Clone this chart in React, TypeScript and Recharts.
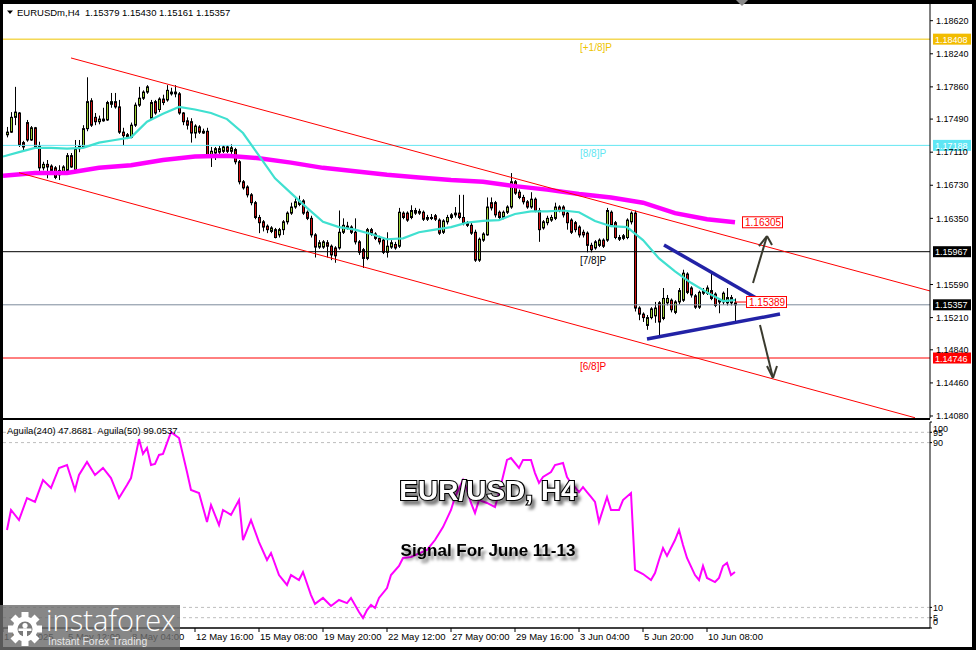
import React from 'react';
import { ComposedChart, Bar, Line, XAxis, YAxis, ReferenceLine, ReferenceDot } from 'recharts';

const FONT = '"Liberation Sans", Arial, Helvetica, sans-serif';

// H4 candles [open, high, low, close]; bar index = position + 1
const candles: [number, number, number, number][] = [
  [1.1731,1.1740,1.1728,1.1734],[1.1734,1.1757,1.1733,1.1751],[1.1751,1.1786,1.1742,1.1757],[1.1756,1.1757,1.1717,1.1719],
  [1.1722,1.1724,1.1713,1.1717],[1.1745,1.1748,1.1723,1.1725],[1.1725,1.1741,1.1724,1.1739],[1.1739,1.1740,1.1716,1.1717],
  [1.1718,1.1723,1.1688,1.1693],[1.1693,1.1700,1.1690,1.1697],[1.1697,1.1702,1.1681,1.1694],[1.1695,1.1697,1.1688,1.1690],
  [1.1693,1.1695,1.1680,1.1682],[1.1685,1.1696,1.1679,1.1690],[1.1687,1.1696,1.1685,1.1694],[1.1690,1.1710,1.1689,1.1707],
  [1.1707,1.1710,1.1693,1.1694],[1.1690,1.1725,1.1688,1.1715],[1.1715,1.1725,1.1711,1.1718],[1.1717,1.1742,1.1716,1.1738],
  [1.1738,1.1797,1.1735,1.1769],[1.1770,1.1773,1.1740,1.1742],[1.1751,1.1756,1.1742,1.1746],[1.1746,1.1753,1.1743,1.1749],
  [1.1749,1.1762,1.1746,1.1747],[1.1748,1.1770,1.1747,1.1768],[1.1766,1.1779,1.1762,1.1769],[1.1769,1.1779,1.1761,1.1763],
  [1.1763,1.1771,1.1732,1.1734],[1.1734,1.1739,1.1719,1.1730],[1.1728,1.1733,1.1726,1.1731],[1.1728,1.1745,1.1727,1.1742],
  [1.1742,1.1768,1.1740,1.1765],[1.1765,1.1786,1.1763,1.1773],[1.1773,1.1782,1.1771,1.1780],[1.1780,1.1788,1.1778,1.1786],
  [1.1750,1.1771,1.1748,1.1768],[1.1769,1.1771,1.1754,1.1756],[1.1760,1.1774,1.1757,1.1772],[1.1772,1.1777,1.1765,1.1768],
  [1.1771,1.1788,1.1769,1.1782],[1.1778,1.1785,1.1776,1.1780],[1.1780,1.1788,1.1774,1.1778],[1.1778,1.1780,1.1754,1.1756],
  [1.1756,1.1757,1.1742,1.1746],[1.1747,1.1751,1.1737,1.1742],[1.1746,1.1750,1.1722,1.1733],[1.1733,1.1743,1.1727,1.1741],
  [1.1740,1.1742,1.1732,1.1734],[1.1733,1.1738,1.1732,1.1735],[1.1735,1.1739,1.1706,1.1708],[1.1708,1.1717,1.1694,1.1712],
  [1.1710,1.1717,1.1702,1.1715],[1.1711,1.1718,1.1708,1.1715],[1.1712,1.1719,1.1710,1.1717],[1.1717,1.1719,1.1710,1.1712],
  [1.1712,1.1720,1.1709,1.1716],[1.1714,1.1716,1.1697,1.1700],[1.1700,1.1702,1.1674,1.1677],[1.1677,1.1679,1.1668,1.1670],
  [1.1671,1.1673,1.1659,1.1662],[1.1662,1.1664,1.1650,1.1653],[1.1653,1.1655,1.1634,1.1636],[1.1636,1.1639,1.1618,1.1630],
  [1.1631,1.1633,1.1620,1.1625],[1.1626,1.1628,1.1618,1.1622],[1.1620,1.1626,1.1618,1.1624],[1.1622,1.1624,1.1612,1.1613],
  [1.1616,1.1624,1.1613,1.1622],[1.1622,1.1633,1.1616,1.1631],[1.1631,1.1643,1.1628,1.1641],[1.1641,1.1653,1.1639,1.1648],
  [1.1648,1.1659,1.1646,1.1654],[1.1651,1.1661,1.1649,1.1655],[1.1655,1.1657,1.1639,1.1641],[1.1642,1.1644,1.1633,1.1635],
  [1.1635,1.1638,1.1613,1.1616],[1.1616,1.1618,1.1590,1.1602],[1.1602,1.1610,1.1600,1.1607],[1.1602,1.1610,1.1600,1.1608],
  [1.1607,1.1610,1.1590,1.1603],[1.1603,1.1605,1.1587,1.1593],[1.1601,1.1603,1.1584,1.1592],[1.1601,1.1644,1.1599,1.1619],
  [1.1619,1.1635,1.1617,1.1627],[1.1624,1.1631,1.1622,1.1626],[1.1625,1.1627,1.1617,1.1619],[1.1619,1.1635,1.1605,1.1608],
  [1.1608,1.1610,1.1593,1.1596],[1.1599,1.1601,1.1578,1.1589],[1.1589,1.1624,1.1587,1.1622],[1.1622,1.1624,1.1615,1.1618],
  [1.1617,1.1619,1.1610,1.1612],[1.1612,1.1615,1.1605,1.1608],[1.1610,1.1612,1.1594,1.1596],[1.1596,1.1619,1.1590,1.1603],
  [1.1602,1.1610,1.1600,1.1607],[1.1605,1.1608,1.1599,1.1601],[1.1603,1.1647,1.1601,1.1642],[1.1641,1.1643,1.1634,1.1636],
  [1.1641,1.1643,1.1631,1.1633],[1.1636,1.1650,1.1634,1.1644],[1.1641,1.1647,1.1639,1.1644],[1.1643,1.1646,1.1639,1.1641],
  [1.1642,1.1644,1.1632,1.1634],[1.1634,1.1639,1.1632,1.1636],[1.1635,1.1640,1.1633,1.1636],[1.1638,1.1640,1.1632,1.1634],
  [1.1633,1.1635,1.1616,1.1618],[1.1619,1.1634,1.1617,1.1632],[1.1631,1.1639,1.1628,1.1636],[1.1636,1.1641,1.1634,1.1639],
  [1.1639,1.1648,1.1636,1.1641],[1.1641,1.1662,1.1634,1.1636],[1.1636,1.1662,1.1627,1.1630],[1.1630,1.1632,1.1625,1.1627],
  [1.1627,1.1630,1.1616,1.1618],[1.1619,1.1622,1.1585,1.1587],[1.1587,1.1613,1.1585,1.1611],[1.1610,1.1619,1.1608,1.1617],
  [1.1616,1.1659,1.1615,1.1648],[1.1653,1.1659,1.1644,1.1647],[1.1653,1.1655,1.1636,1.1639],[1.1642,1.1644,1.1634,1.1636],
  [1.1636,1.1644,1.1634,1.1642],[1.1642,1.1650,1.1640,1.1648],[1.1648,1.1687,1.1646,1.1677],[1.1677,1.1679,1.1662,1.1664],
  [1.1665,1.1668,1.1657,1.1659],[1.1659,1.1662,1.1651,1.1654],[1.1654,1.1656,1.1646,1.1648],[1.1648,1.1665,1.1646,1.1657],
  [1.1657,1.1659,1.1642,1.1644],[1.1644,1.1647,1.1608,1.1622],[1.1624,1.1633,1.1622,1.1631],[1.1630,1.1638,1.1627,1.1635],
  [1.1633,1.1639,1.1631,1.1636],[1.1635,1.1653,1.1633,1.1648],[1.1648,1.1650,1.1642,1.1644],[1.1648,1.1650,1.1636,1.1639],
  [1.1641,1.1643,1.1622,1.1630],[1.1633,1.1635,1.1617,1.1619],[1.1630,1.1632,1.1619,1.1622],[1.1625,1.1627,1.1613,1.1616],
  [1.1619,1.1622,1.1613,1.1616],[1.1618,1.1620,1.1596,1.1604],[1.1604,1.1607,1.1596,1.1599],[1.1601,1.1610,1.1599,1.1608],
  [1.1604,1.1612,1.1602,1.1610],[1.1610,1.1612,1.1601,1.1603],[1.1610,1.1647,1.1608,1.1644],[1.1642,1.1644,1.1625,1.1627],
  [1.1630,1.1632,1.1611,1.1613],[1.1613,1.1616,1.1609,1.1611],[1.1612,1.1617,1.1610,1.1615],[1.1613,1.1635,1.1611,1.1633],
  [1.1631,1.1643,1.1628,1.1641],[1.1641,1.1644,1.1528,1.1532],[1.1532,1.1534,1.1518,1.1525],[1.1525,1.1527,1.1516,1.1521],
  [1.1512,1.1524,1.1507,1.1521],[1.1521,1.1533,1.1519,1.1531],[1.1523,1.1539,1.1515,1.1532],[1.1538,1.1540,1.1501,1.1516],
  [1.1520,1.1555,1.1518,1.1543],[1.1538,1.1547,1.1535,1.1543],[1.1541,1.1543,1.1527,1.1530],[1.1527,1.1541,1.1525,1.1539],
  [1.1539,1.1555,1.1536,1.1552],[1.1541,1.1576,1.1539,1.1572],[1.1571,1.1573,1.1548,1.1550],[1.1555,1.1557,1.1544,1.1547],
  [1.1546,1.1548,1.1531,1.1533],[1.1533,1.1552,1.1531,1.1550],[1.1549,1.1555,1.1547,1.1552],[1.1549,1.1558,1.1547,1.1555],
  [1.1552,1.1572,1.1541,1.1543],[1.1548,1.1550,1.1533,1.1535],[1.1541,1.1543,1.1526,1.1539],[1.1539,1.1551,1.1536,1.1549],
  [1.1538,1.1555,1.1535,1.1544],[1.1544,1.1547,1.1535,1.1538],[1.15379,1.15430,1.15161,1.15357],
];

// Moving averages: [bar index, price]
const fastMa: [number, number][] = [
  [0,1.1706],[4,1.1711],[8,1.1716],[12,1.1716],[16,1.1715],[20,1.1716],[24,1.1722],[28,1.1725],[32,1.1728],[36,1.1746],
  [40,1.1755],[44,1.1763],[48,1.1760],[52,1.1756],[56,1.1749],[60,1.1733],[64,1.1707],[68,1.1681],[72,1.1664],[76,1.1647],
  [80,1.1631],[84,1.1625],[88,1.1622],[92,1.1617],[96,1.1611],[100,1.1612],[104,1.1619],[108,1.1622],[112,1.1625],[116,1.1630],
  [120,1.1632],[124,1.1633],[128,1.1640],[132,1.1643],[136,1.1643],[140,1.1644],[144,1.1642],[148,1.1632],[152,1.1626],[156,1.1625],
  [160,1.1610],[164,1.1589],[168,1.1574],[172,1.1561],[176,1.1550],[180,1.1540],[183,1.1541],
];
const slowMa: [number, number][] = [
  [0,1.1684],[8,1.1687],[16,1.1687],[24,1.1693],[32,1.1696],[40,1.1702],[48,1.1706],[56,1.1707],[64,1.1704],[72,1.1699],
  [80,1.1693],[88,1.1689],[96,1.1685],[104,1.1682],[112,1.1679],[120,1.1677],[128,1.1672],[136,1.1668],[144,1.1663],[152,1.1659],
  [160,1.1653],[168,1.1641],[176,1.1634],[183,1.16305],
];

// Aguila oscillator: [bar index, value]
const aguila: [number, number][] = [
  [1,47.6],[2,57.3],[4,52.4],[6,63.1],[8,61.2],[10,71.8],[12,68.0],[14,77.7],[16,79.1],[18,67.0],[19,74.3],[21,80.6],[23,74.3],
  [25,77.7],[27,72.8],[29,63.1],[31,69.4],[32,72.8],[34,91.7],[35,84.5],[36,87.4],[37,79.1],[38,79.6],[39,84.0],[40,84.5],
  [42,95.1],[44,92.2],[46,75.7],[47,67.0],[49,65.5],[51,51.5],[52,59.7],[54,50.0],[55,57.3],[57,54.9],[59,62.1],[60,42.7],
  [62,52.4],[64,41.7],[66,33.0],[67,36.4],[69,25.7],[71,20.9],[72,25.7],[74,23.3],[75,27.2],[77,16.0],[78,11.7],[80,14.6],
  [82,10.7],[84,13.6],[86,12.1],[87,14.6],[89,7.8],[90,4.9],[91,8.7],[92,11.2],[93,9.7],[94,14.6],[96,19.4],[97,25.7],
  [99,30.1],[100,34.0],[102,34.5],[106,37.9],[108,42.7],[110,49.0],[112,57.3],[113,63.6],[115,71.8],[116,67.0],[117,60.7],
  [118,55.8],[119,62.1],[121,60.7],[123,58.7],[124,65.5],[126,81.6],[127,82.5],[129,77.7],[130,81.6],[132,81.6],[133,75.2],
  [134,70.4],[135,73.3],[137,75.7],[138,79.1],[140,80.1],[141,73.3],[142,70.4],[143,68.4],[144,66.0],[145,68.4],[146,66.0],
  [147,63.6],[148,61.2],[149,51.5],[151,63.6],[152,57.3],[154,57.3],[155,62.1],[157,65.5],[158,28.2],[160,26.2],[162,23.3],
  [163,26.7],[164,33.0],[165,38.8],[166,35.0],[168,42.7],[169,47.6],[170,40.3],[171,34.0],[173,25.7],[174,23.3],[175,30.1],
  [176,24.3],[178,22.3],[179,24.3],[180,30.1],[181,31.6],[182,25.7],[183,27.2],
];

const priceTicks = [1.1862, 1.1824, 1.1786, 1.1749, 1.1711, 1.1673, 1.1635, 1.1559, 1.1521, 1.1484, 1.1446, 1.1408];
const timeTicks = [0, 16, 32, 48, 64, 80, 96, 112, 128, 144, 160, 176];
const timeLabels = ['1 May 2025', '5 May 12:00', '8 May 04:00', '12 May 16:00', '15 May 08:00', '19 May 20:00',
  '22 May 12:00', '27 May 00:00', '29 May 16:00', '3 Jun 04:00', '5 Jun 20:00', '10 Jun 08:00'];
const oscTicks = [0, 5, 10, 90, 95, 100];
const oscLevels = [95, 90, 10, 5];

const murreyPrices = [1.18408, 1.17188, 1.15967, 1.14746];
const murreyNames = ['[+1/8]P', '[8/8]P', '[7/8]P', '[6/8]P'];
const murreyLabelBar = 144.25;
const lastPrice = 1.15357;
const maEndPrice = 1.16305;
const triangleMid = 1.15389;
const headerValues = ['1.15379', '1.15430', '1.15161', '1.15357'];
const oscHeader = 'Aguila(240) 47.8681  Aguila(50) 99.0537';

// drawn objects in [bar, price]
const channelUpper: [number, number][] = [[17, 1.18192], [231.75, 1.15516]];
const channelLower: [number, number][] = [[4, 1.16874], [228, 1.14060]];
const triUpper: [number, number][] = [[165.25, 1.16044], [192.25, 1.15332]];
const triLower: [number, number][] = [[161, 1.14964], [194.25, 1.15251]];
const arrowUp: [number, number][] = [[187.5, 1.15608], [191, 1.16147]];
const arrowUpWings: [number, number][] = [[189, 1.16032], [192.25, 1.16044]];
const arrowDown: [number, number][] = [[189.25, 1.15125], [192.5, 1.14516]];
const arrowDownWings: [number, number][] = [[191, 1.14654], [193.5, 1.14654]];

const X_DOMAIN: [number, number] = [0, 231.75];
const Y_DOMAIN: [number, number] = [1.14057, 1.188118];
const OSC_TOP = 2;
const OSC_HEIGHT = 206;

const GREEN = '#9acd32';
const RED = '#d01010';
const murreyColors = ['#eec400', '#62e6f2', '#000000', '#ff0000'];
const murreyBoxColors = ['#f2bc00', '#5ee6f4', '#000000', '#ff0000'];

const fastMap = new Map(fastMa);
const slowMap = new Map(slowMa);
const rows = Array.from({ length: candles.length + 1 }, (_, i) => ({
  i,
  candle: i >= 1 ? candles[i - 1] : null,
  fast: fastMap.has(i) ? fastMap.get(i) : null,
  slow: slowMap.has(i) ? slowMap.get(i) : null,
}));
const oscRows = aguila.map(([i, v]) => ({ i, v }));

const CandleShape = (props: any) => {
  const { x, y, width, height, payload } = props;
  const c = payload && payload.candle;
  if (!c || !isFinite(y) || !isFinite(height)) return null;
  const [o, h, l, cl] = c;
  const top = Math.min(y, y + height);
  const bot = Math.max(y, y + height);
  const k = (bot - top) / (h - l);
  const cx = Math.round(x + width / 2);
  const yo = top + (h - o) * k;
  const yc = top + (h - cl) * k;
  const bTop = Math.min(yo, yc);
  const bH = Math.max(Math.abs(yc - yo), 1);
  const bull = cl >= o;
  return (
    <g>
      <line x1={cx + 0.5} x2={cx + 0.5} y1={top} y2={bot} stroke="#000" strokeWidth={1} />
      <rect x={cx - 0.5} y={bTop} width={2} height={bH} fill={bull ? GREEN : RED} stroke="#000" strokeWidth={1} />
    </g>
  );
};

const axisBox = (bg: string, text: string) => (p: any) => (
  <g>
    <rect x={p.cx + 3} y={p.cy - 5.5} width={38} height={11} fill={bg} />
    <text x={p.cx + 5} y={p.cy + 3.5} fill="#fff" fontSize={9} fontFamily={FONT}>{text}</text>
  </g>
);

const plotBox = (text: string) => (p: any) => (
  <g>
    <rect x={p.cx + 0.5} y={p.cy - 5.5} width={40} height={11} fill="#fff" stroke="#ff0000" strokeWidth={1} />
    <text x={p.cx + 3} y={p.cy + 4} fill="#ff0000" fontSize={10} fontFamily={FONT}>{text}</text>
  </g>
);

const levelText = (text: string, color: string) => (p: any) => (
  <text x={p.cx} y={p.cy + 12} fill={color} fontSize={10} fontFamily={FONT}>{text}</text>
);

const TimeTick = (p: any) => {
  const idx = timeTicks.indexOf(p.payload.value);
  return (
    <text x={p.x + 1} y={p.y + 6} fontSize={9.5} fontFamily={FONT} fill="#000" textAnchor="start">
      {idx >= 0 ? timeLabels[idx] : ''}
    </text>
  );
};

// labels at the panel edges are kept inside the panel, as the terminal does
const OscTick = (p: any) => {
  const yy = Math.min(Math.max(p.y, OSC_TOP + 6), OSC_TOP + OSC_HEIGHT - 7);
  return (
    <text x={p.x} y={yy + 3.5} fontSize={9} fontFamily={FONT} fill="#000" textAnchor="start">{p.payload.value}</text>
  );
};

const seg = (pts: [number, number][]) => [{ x: pts[0][0], y: pts[0][1] }, { x: pts[1][0], y: pts[1][1] }];

export default function App() {
  return (
    <div style={{ position: 'absolute', left: 0, top: 0, width: 976, height: 650, background: '#000', overflow: 'hidden', fontFamily: FONT }}>
      <div style={{ position: 'absolute', left: 3, top: 4, width: 969, height: 643, background: '#fff' }} />

      <div style={{ position: 'absolute', left: 0, top: 0 }}>
        <ComposedChart width={976} height={422} data={rows} margin={{ top: 4, right: 0, bottom: 4, left: 3 }}>
          <XAxis type="number" dataKey="i" domain={X_DOMAIN} hide allowDataOverflow />
          <YAxis orientation="right" domain={Y_DOMAIN} ticks={priceTicks} interval={0} width={46} allowDataOverflow
            tickFormatter={(v: number) => v.toFixed(5)} tickSize={3} tickMargin={3}
            axisLine={{ stroke: '#000' }} tickLine={{ stroke: '#000' }}
            tick={{ fontSize: 9, fill: '#000', fontFamily: FONT }} />

          {murreyPrices.map((p, k) => (
            <ReferenceLine key={'m' + k} y={p} stroke={murreyColors[k]} strokeWidth={1} ifOverflow="visible" />
          ))}
          <ReferenceLine y={lastPrice} stroke="#7d8b9c" strokeWidth={1} />

          <Line dataKey="slow" stroke="#ff00ff" strokeWidth={4.5} dot={false} connectNulls isAnimationActive={false} />
          <Line dataKey="fast" stroke="#40e0d0" strokeWidth={2.2} dot={false} connectNulls isAnimationActive={false} />

          <Bar dataKey={(d: any) => (d.candle ? [d.candle[2], d.candle[1]] : null)} barSize={3} shape={CandleShape} isAnimationActive={false} />

          <ReferenceLine segment={seg(channelUpper)} stroke="#ff0000" strokeWidth={1} ifOverflow="visible" />
          <ReferenceLine segment={seg(channelLower)} stroke="#ff0000" strokeWidth={1} ifOverflow="visible" />
          <ReferenceLine segment={seg(triUpper)} stroke="#2222a6" strokeWidth={3.5} ifOverflow="visible" />
          <ReferenceLine segment={seg(triLower)} stroke="#2222a6" strokeWidth={3.5} ifOverflow="visible" />
          <ReferenceLine segment={seg(arrowUp)} stroke="#3a3a2e" strokeWidth={2} ifOverflow="visible" />
          <ReferenceLine segment={[{ x: arrowUp[1][0], y: arrowUp[1][1] }, { x: arrowUpWings[0][0], y: arrowUpWings[0][1] }]} stroke="#3a3a2e" strokeWidth={2} ifOverflow="visible" />
          <ReferenceLine segment={[{ x: arrowUp[1][0], y: arrowUp[1][1] }, { x: arrowUpWings[1][0], y: arrowUpWings[1][1] }]} stroke="#3a3a2e" strokeWidth={2} ifOverflow="visible" />
          <ReferenceLine segment={seg(arrowDown)} stroke="#3a3a2e" strokeWidth={2} ifOverflow="visible" />
          <ReferenceLine segment={[{ x: arrowDown[1][0], y: arrowDown[1][1] }, { x: arrowDownWings[0][0], y: arrowDownWings[0][1] }]} stroke="#3a3a2e" strokeWidth={2} ifOverflow="visible" />
          <ReferenceLine segment={[{ x: arrowDown[1][0], y: arrowDown[1][1] }, { x: arrowDownWings[1][0], y: arrowDownWings[1][1] }]} stroke="#3a3a2e" strokeWidth={2} ifOverflow="visible" />
          <ReferenceLine segment={[{ x: candles.length, y: triangleMid }, { x: 185.75, y: triangleMid }]} stroke="#ff0000" strokeWidth={1} ifOverflow="visible" />

          {murreyPrices.map((p, k) => (
            <ReferenceDot key={'t' + k} x={murreyLabelBar} y={p} r={0} ifOverflow="visible" shape={levelText(murreyNames[k], murreyColors[k])} />
          ))}
          <ReferenceDot x={184.75} y={maEndPrice} r={0} ifOverflow="visible" shape={plotBox(maEndPrice.toFixed(5))} />
          <ReferenceDot x={185.75} y={triangleMid} r={0} ifOverflow="visible" shape={plotBox(triangleMid.toFixed(5))} />

          {murreyPrices.map((p, k) => (
            <ReferenceDot key={'b' + k} x={X_DOMAIN[1]} y={p} r={0} ifOverflow="visible" shape={axisBox(murreyBoxColors[k], p.toFixed(5))} />
          ))}
          <ReferenceDot x={X_DOMAIN[1]} y={lastPrice} r={0} ifOverflow="visible" shape={axisBox('#000', lastPrice.toFixed(5))} />
        </ComposedChart>
      </div>

      <div style={{ position: 'absolute', left: 3, top: 418, width: 927, height: 2, background: '#000' }} />

      <div style={{ position: 'absolute', left: 0, top: 420 }}>
        <ComposedChart width={976} height={230} data={oscRows} margin={{ top: OSC_TOP, right: 0, bottom: 4, left: 3 }}>
          <XAxis type="number" dataKey="i" domain={X_DOMAIN} ticks={timeTicks} interval={0} allowDataOverflow
            height={18} tickSize={4} tickMargin={2} axisLine={{ stroke: '#000', strokeWidth: 1.5 }} tickLine={{ stroke: '#000' }}
            tick={TimeTick} />
          <YAxis orientation="right" domain={[0, 100]} ticks={oscTicks} interval={0} width={46} allowDataOverflow
            tickSize={2} tickMargin={1} axisLine={{ stroke: '#000' }} tickLine={{ stroke: '#000' }} tick={OscTick} />
          {oscLevels.map((v) => (
            <ReferenceLine key={'o' + v} y={v} stroke="#bdbdbd" strokeDasharray="3 3" strokeWidth={1} />
          ))}
          <Line dataKey="v" stroke="#ff00ff" strokeWidth={2} dot={false} isAnimationActive={false} />
        </ComposedChart>
      </div>

      <svg width={976} height={650} style={{ position: 'absolute', left: 0, top: 0, pointerEvents: 'none' }}>
        <defs>
          <filter id="sh" x="-10%" y="-40%" width="130%" height="200%">
            <feDropShadow dx="3" dy="4" stdDeviation="1.6" floodColor="#000" floodOpacity="0.5" />
          </filter>
        </defs>
        <polygon points="736,0 748,0 742,6" fill="#8a8a8a" />
        <polygon points="7,10.5 13,10.5 10,14" fill="#000" />
        <text x={17} y={15.5} fontSize={9.5} fontFamily={FONT} fill="#000" style={{ whiteSpace: 'pre' }}>
          {'EURUSDm,H4  ' + headerValues.join(' ')}
        </text>
        <text x={7} y={434} fontSize={9.5} fontFamily={FONT} fill="#000" style={{ whiteSpace: 'pre' }}>{oscHeader}</text>

        <text x={488} y={500} textAnchor="middle" fontSize={28} fontWeight="bold" fontFamily={FONT}
          fill="#fff" stroke="#000" strokeWidth={2.2} paintOrder="stroke" filter="url(#sh)">EUR/USD, H4</text>
        <text x={488} y={556} textAnchor="middle" fontSize={17} fontWeight="bold" fontFamily={FONT}
          fill="#000" filter="url(#sh)">Signal For June 11-13</text>

        <g>
          <rect x={0} y={605} width={180} height={45} fill="#6c6c6c" fillOpacity={0.82} />
          <g transform="translate(25,629)">
            {[0, 45, 90, 135, 180, 225, 270, 315].map((a) => (
              <rect key={a} x={-3.5} y={-17} width={7} height={8} fill="#fff" transform={`rotate(${a})`} />
            ))}
            <circle r={12.5} fill="#fff" />
            <circle r={7.5} fill="#7a7a7a" />
            <circle cx={0} cy={-3.5} r={2.6} fill="#fff" />
            <rect x={-2} y={-0.5} width={4} height={9} fill="#fff" />
            <rect x={-6.5} y={-0.5} width={13} height={2.5} fill="#fff" />
          </g>
          <text x={46} y={631} fontSize={29} fontWeight={300} fontFamily='"Open Sans", "Liberation Sans", sans-serif' fill="#fff">instaforex</text>
          <text x={48} y={645} fontSize={10.5} fontFamily={FONT} fill="#e6e6e6">Instant Forex Trading</text>
        </g>
      </svg>
    </div>
  );
}
